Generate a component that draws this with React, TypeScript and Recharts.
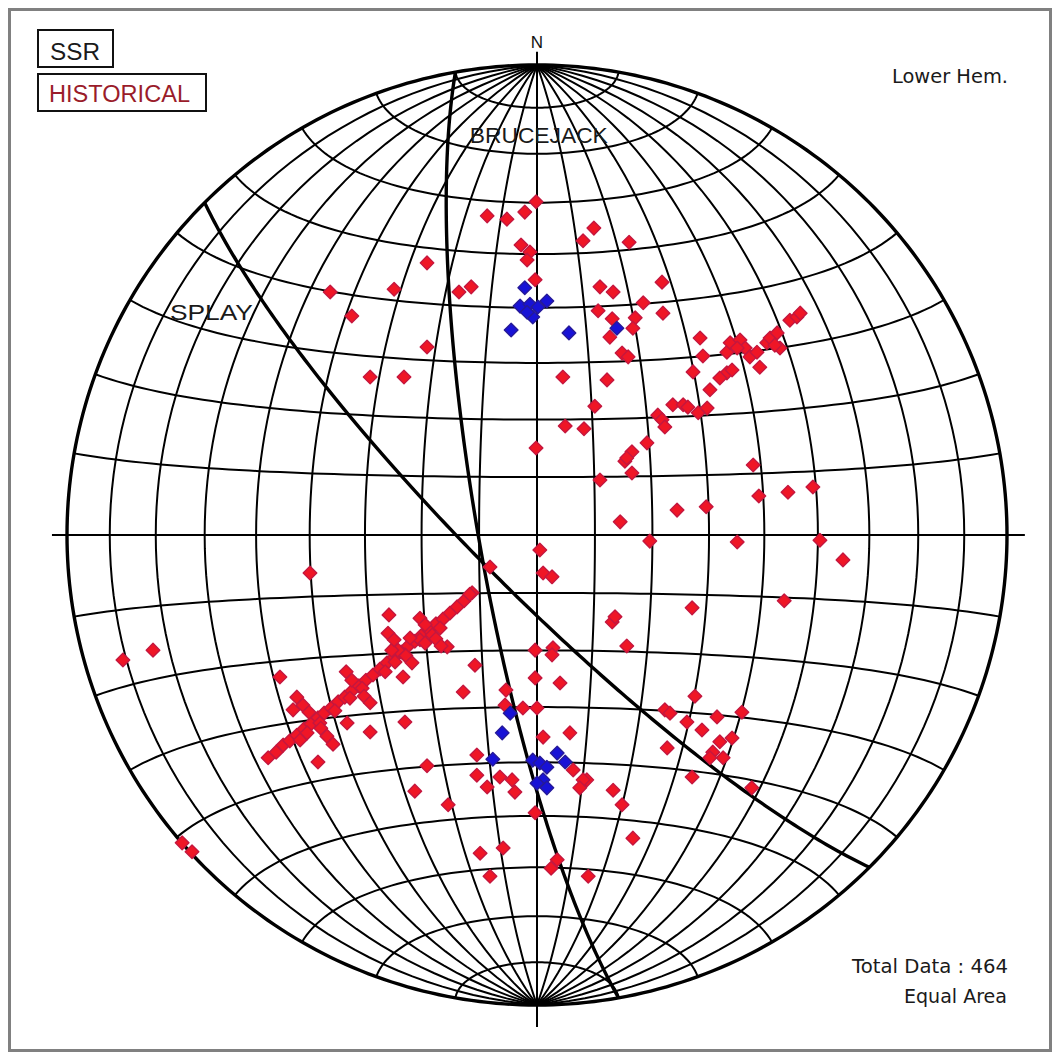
import React from 'react';
import { ScatterChart, Scatter, XAxis, YAxis } from 'recharts';

// Lower-hemisphere poles in equal-area net coordinates (primitive circle radius = 100, north up).
const historicalNorth: [number, number][] = [
  [-0.2, 70.9], [-2.6, 68.7], [-6.4, 67.2], [-10.6, 67.9], [-3.4, 61.7], [-1.5, 60.2], [-2.1, 58.5],
  [12.1, 65.3], [9.8, 62.6], [19.6, 62.3], [-23.4, 57.9], [-44.0, 51.7], [-30.4, 52.3], [-16.6, 51.7],
  [-14.0, 52.8], [-0.4, 54.3], [-39.4, 46.6], [-23.4, 40.0], [-35.5, 33.6], [-28.3, 33.6],
];

const historicalNorthEast: [number, number][] = [
  [13.4, 52.8], [16.2, 51.7], [22.6, 49.4], [13.0, 47.7], [16.0, 46.0], [15.5, 42.1], [20.9, 46.2],
  [20.4, 44.0], [18.1, 38.7], [19.4, 37.9], [5.5, 33.6], [14.9, 33.0], [12.3, 27.4], [6.0, 23.2],
  [10.0, 22.6], [-0.2, 18.5], [23.4, 19.6], [20.2, 17.7], [18.7, 15.7], [20.2, 13.2], [13.4, 11.7],
  [26.6, 53.8], [26.8, 47.2], [19.1, 16.4],
];

const historicalNorthEastTrend: [number, number][] = [
  [34.7, 41.9], [35.3, 38.1], [33.2, 34.7], [36.8, 30.9], [40.4, 38.9], [41.1, 40.9], [43.2, 41.5],
  [44.3, 39.8], [45.3, 37.9], [46.8, 38.9], [48.9, 40.9], [49.6, 41.9], [51.1, 43.0], [51.7, 39.8],
  [47.4, 35.7], [40.4, 34.5], [38.9, 33.4], [41.5, 35.1], [53.8, 45.7], [55.3, 46.4], [56.0, 47.2],
  [28.9, 27.7], [31.1, 27.7], [32.1, 27.2], [34.3, 26.0], [36.2, 27.0], [25.7, 25.5], [26.6, 24.5],
  [27.2, 23.0], [42.6, 39.8], [50.6, 40.4],
];

const historicalEast: [number, number][] = [
  [46.0, 14.9], [47.2, 8.3], [53.4, 9.1], [58.7, 10.2], [29.8, 5.3], [36.0, 6.0], [17.7, 2.8],
  [24.0, -1.3], [42.6, -1.5], [60.2, -1.1], [65.1, -5.3], [52.6, -14.0], [33.0, -15.5], [16.0, -18.5],
  [16.6, -17.4], [19.1, -23.6],
];

const historicalSouthEast: [number, number][] = [
  [33.6, -34.3], [27.2, -37.2], [28.3, -37.9], [31.9, -39.8], [38.3, -38.7], [43.6, -37.7],
  [35.1, -41.5], [38.9, -44.0], [41.5, -43.2], [37.4, -46.2], [39.6, -47.4], [36.8, -47.4],
  [27.7, -45.3], [33.0, -51.5], [45.7, -53.8], [16.2, -54.3], [10.6, -52.1],
];

const historicalSouth: [number, number][] = [
  [0.6, -3.2], [1.3, -8.1], [3.2, -8.9], [-10.0, -6.8], [-13.8, -12.3], [-0.4, -24.5], [3.4, -24.0],
  [3.2, -25.5], [-13.2, -27.7], [-28.5, -30.2], [-0.4, -30.4], [4.9, -31.5], [-15.7, -33.4],
  [-6.6, -33.0], [-6.8, -36.2], [-3.0, -36.8], [0, -36.8], [-28.1, -39.8], [1.3, -43.0], [7.0, -42.1],
  [-12.8, -46.8], [-23.4, -49.1], [-12.8, -51.1], [-10.6, -53.6], [-7.9, -51.5], [-5.3, -52.1],
  [-4.7, -54.7], [7.7, -50.0], [9.8, -52.1], [9.1, -53.8], [18.1, -57.4], [-26.0, -54.5],
  [-18.9, -57.4], [-0.4, -59.1], [20.4, -64.5], [-12.1, -67.7], [-7.2, -66.6], [4.3, -69.1],
  [3.0, -70.9], [-10.0, -72.6], [10.9, -72.6],
];

const historicalWest: [number, number][] = [
  [-48.3, -8.1], [-81.7, -24.5], [-88.1, -26.6], [-54.7, -30.2], [-51.9, -37.2], [-40.4, -40.0],
  [-35.5, -41.9], [-75.5, -65.5], [-73.4, -67.4], [-31.5, -17.0], [-46.6, -48.3], [-19.1, -23.8],
];

const historicalSouthWestTrend: [number, number][] = [
  [-57.2, -47.4], [-55.5, -46.2], [-54.0, -44.7], [-52.6, -43.8], [-51.1, -42.6], [-49.6, -41.3],
  [-48.1, -40.2], [-46.6, -38.9], [-45.3, -37.9], [-43.8, -36.8], [-42.3, -35.5], [-40.9, -34.5],
  [-39.4, -33.2], [-37.9, -32.1], [-36.4, -30.9], [-34.9, -29.8], [-33.4, -28.5], [-31.9, -27.2],
  [-30.4, -26.0], [-28.9, -24.9], [-27.4, -23.6], [-26.0, -22.6], [-24.5, -21.3], [-23.0, -20.2],
  [-21.5, -18.9], [-20.0, -17.9], [-18.5, -16.6], [-17.0, -15.3], [-15.5, -14.0], [-14.3, -12.6],
  [-50.4, -43.6], [-48.9, -42.1], [-46.2, -40.0], [-43.0, -37.4], [-39.8, -34.7], [-37.2, -32.6],
  [-32.3, -29.1], [-30.2, -27.0], [-28.1, -25.5], [-24.9, -22.3], [-23.8, -23.0], [-22.3, -21.3],
  [-20.6, -19.8], [-29.6, -24.5], [-27.0, -21.9], [-30.9, -24.5],
  [-51.1, -34.5], [-49.8, -36.2], [-48.5, -37.7], [-46.0, -41.1], [-44.7, -42.8], [-43.4, -44.5],
  [-40.6, -29.1], [-39.4, -30.9], [-36.8, -34.3], [-35.5, -35.7], [-31.7, -20.9], [-30.4, -22.3],
  [-27.9, -25.7], [-26.6, -27.2], [-24.9, -17.7], [-23.8, -19.1], [-21.5, -22.1], [-20.4, -23.6],
];

const ssrNorth: [number, number][] = [
  [-2.6, 52.6], [-3.6, 48.7], [-1.5, 49.1], [0.2, 48.5], [2.1, 49.8], [-0.9, 46.4], [-2.1, 47.4],
  [-5.5, 43.6], [6.8, 43.0], [17.0, 44.0],
];

const ssrSouth: [number, number][] = [
  [-5.7, -37.9], [-7.4, -42.1], [-9.4, -47.7], [-0.9, -47.9], [0.6, -48.5], [4.3, -46.4], [6.0, -48.3],
  [2.1, -49.4], [1.3, -52.1], [2.1, -53.8], [0, -52.8],
];

// Major structures as planes: dip direction / dip (degrees)
const planeNames = ['BRUCEJACK', 'SPLAY'];
const planeDipDirections = [260, 225];
const planeDips = [80, 80];

// Net labels: [x, y] anchor (left end of baseline) and drawn width
const planeLabelAnchors: [number, number][] = [[-14.3, 83.4], [-78.1, 45.7]];
const planeLabelWidths = [138, 83];

const legendLabels = ['SSR', 'HISTORICAL'];
const totalData = 464;

// ---------- net geometry ----------
const RAD = Math.PI / 180;
const NET_R = 100;
const GRID_STEP = 10;

type P = { x: number; y: number };

// Transverse Lambert equal-area point for net longitude/latitude
function netPoint(lon: number, lat: number): P {
  const c = Math.cos(lat * RAD) * Math.cos(lon * RAD);
  const k = Math.sqrt(2 / (1 + c));
  const s = NET_R / Math.SQRT2;
  return { x: s * k * Math.cos(lat * RAD) * Math.sin(lon * RAD), y: s * k * Math.sin(lat * RAD) };
}

function meridian(lon: number): P[] {
  const pts: P[] = [];
  for (let lat = -90; lat <= 90; lat += 2) pts.push(netPoint(lon, lat));
  return pts;
}

function parallel(lat: number): P[] {
  const pts: P[] = [];
  for (let lon = -90; lon <= 90; lon += 2) pts.push(netPoint(lon, lat));
  return pts;
}

function primitive(): P[] {
  const pts: P[] = [];
  for (let a = 0; a <= 360; a += 1) pts.push({ x: NET_R * Math.sin(a * RAD), y: NET_R * Math.cos(a * RAD) });
  return pts;
}

// Great circle of a plane, projected in the lower hemisphere
function greatCircle(dipDir: number, dip: number): P[] {
  const sAz = (dipDir - 90) * RAD;
  const s = [Math.cos(sAz), Math.sin(sAz), 0];
  const d = [Math.cos(dip * RAD) * Math.cos(dipDir * RAD), Math.cos(dip * RAD) * Math.sin(dipDir * RAD), Math.sin(dip * RAD)];
  const pts: P[] = [];
  for (let t = 0; t <= 180; t += 1) {
    const a = t * RAD;
    const n = Math.cos(a) * s[0] + Math.sin(a) * d[0];
    const e = Math.cos(a) * s[1] + Math.sin(a) * d[1];
    const dn = Math.max(0, Math.min(1, Math.cos(a) * s[2] + Math.sin(a) * d[2]));
    const plunge = Math.asin(dn) / RAD;
    const trend = Math.atan2(e, n);
    const r = NET_R * Math.SQRT2 * Math.sin(((90 - plunge) / 2) * RAD);
    pts.push({ x: r * Math.sin(trend), y: r * Math.cos(trend) });
  }
  return pts;
}

const gridCurves: P[][] = [];
for (let v = GRID_STEP; v < 90; v += GRID_STEP) {
  gridCurves.push(meridian(v), meridian(-v), parallel(v), parallel(-v));
}

// Cross axes with short ticks beyond the primitive
const northSouthAxis: P[] = [{ x: 0, y: -104.7 }, { x: 0, y: 102.8 }];
const eastWestAxis: P[] = [{ x: -103.2, y: 0 }, { x: 103.8, y: 0 }];

const toPoints = (arr: [number, number][]): P[] => arr.map(([x, y]) => ({ x, y }));

const historicalPoles = toPoints([
  ...historicalNorth, ...historicalNorthEast, ...historicalNorthEastTrend, ...historicalEast,
  ...historicalSouthEast, ...historicalSouth, ...historicalWest, ...historicalSouthWestTrend,
]);
const ssrPoles = toPoints([...ssrNorth, ...ssrSouth]);

const RED = '#ef1626';
const RED_EDGE = '#c4173f';
const BLUE = '#1812d6';
const BLUE_EDGE = '#261a98';

const noDot = () => <g />;

const diamond = (fill: string, edge: string) => (props: any) => {
  const { cx, cy } = props;
  const h = 6.8;
  return (
    <polygon
      points={`${cx},${cy - h} ${cx + h},${cy} ${cx},${cy + h} ${cx - h},${cy}`}
      fill={fill}
      stroke={edge}
      strokeWidth={1.4}
      strokeLinejoin="round"
    />
  );
};

const textShape = (label: string, width: number, size: number) => (props: any) => (
  <text
    x={props.cx}
    y={props.cy}
    fontFamily="'Liberation Sans', Arial, sans-serif"
    fontSize={size}
    fill="#1a1a1a"
    textLength={width}
    lengthAdjust="spacingAndGlyphs"
  >
    {label}
  </text>
);

const northShape = (props: any) => (
  <text
    x={props.cx}
    y={props.cy}
    textAnchor="middle"
    fontFamily="'Liberation Sans', Arial, sans-serif"
    fontSize={17}
    fill="#111"
  >
    N
  </text>
);

const CHART_W = 1044;
const CHART_H = 1044;
const DOMAIN: [number, number] = [-108, 108];

export default function App() {
  return (
    <div style={{ position: 'relative', width: 1046, height: 1046, background: '#fff' }}>
      <ScatterChart
        width={CHART_W}
        height={CHART_H}
        margin={{ top: 19.4, right: 7.4, bottom: 9.4, left: 21.4 }}
      >
        <XAxis type="number" dataKey="x" domain={DOMAIN} hide allowDataOverflow />
        <YAxis type="number" dataKey="y" domain={DOMAIN} hide allowDataOverflow />

        {gridCurves.map((c, i) => (
          <Scatter
            key={`g${i}`}
            data={c}
            line={{ stroke: '#000', strokeWidth: 2 }}
            shape={noDot}
            isAnimationActive={false}
          />
        ))}
        <Scatter data={northSouthAxis} line={{ stroke: '#000', strokeWidth: 2 }} shape={noDot} isAnimationActive={false} />
        <Scatter data={eastWestAxis} line={{ stroke: '#000', strokeWidth: 2 }} shape={noDot} isAnimationActive={false} />
        <Scatter data={primitive()} line={{ stroke: '#000', strokeWidth: 3.4 }} shape={noDot} isAnimationActive={false} />
        {planeNames.map((n, i) => (
          <Scatter
            key={n}
            data={greatCircle(planeDipDirections[i], planeDips[i])}
            line={{ stroke: '#000', strokeWidth: 3.4 }}
            shape={noDot}
            isAnimationActive={false}
          />
        ))}

        <Scatter data={historicalPoles} shape={diamond(RED, RED_EDGE)} isAnimationActive={false} />
        <Scatter data={ssrPoles} shape={diamond(BLUE, BLUE_EDGE)} isAnimationActive={false} />

        {planeNames.map((n, i) => (
          <Scatter
            key={`l${n}`}
            data={[{ x: planeLabelAnchors[i][0], y: planeLabelAnchors[i][1] }]}
            shape={textShape(n, planeLabelWidths[i], 22)}
            isAnimationActive={false}
          />
        ))}
        <Scatter data={[{ x: 0, y: 103.6 }]} shape={northShape} isAnimationActive={false} />
      </ScatterChart>

      <svg
        width={1046}
        height={1046}
        style={{ position: 'absolute', left: 0, top: 0, pointerEvents: 'none' }}
      >
        <rect x={1.5} y={1.5} width={1041} height={1041} fill="none" stroke="#808080" strokeWidth={3} />

        <rect x={30} y={22} width={75} height={37} fill="none" stroke="#111" strokeWidth={2} />
        <text x={42} y={52} fontFamily="'Liberation Sans', Arial, sans-serif" fontSize={23} fill="#1a1a1a"
          textLength={50} lengthAdjust="spacingAndGlyphs">{legendLabels[0]}</text>

        <rect x={30} y={66} width={168} height={37} fill="none" stroke="#111" strokeWidth={2} />
        <text x={41} y={94} fontFamily="'Liberation Sans', Arial, sans-serif" fontSize={23} fill="#9a1c2a"
          textLength={141} lengthAdjust="spacingAndGlyphs">{legendLabels[1]}</text>

        <text x={884} y={75} fontFamily="'DejaVu Sans', sans-serif" fontSize={19} fill="#1a1a1a"
          textLength={116} lengthAdjust="spacingAndGlyphs">Lower Hem.</text>
        <text x={844} y={965} fontFamily="'DejaVu Sans', sans-serif" fontSize={19} fill="#1a1a1a"
          textLength={156} lengthAdjust="spacingAndGlyphs">{`Total Data : ${totalData}`}</text>
        <text x={896} y={995} fontFamily="'DejaVu Sans', sans-serif" fontSize={19} fill="#1a1a1a"
          textLength={103} lengthAdjust="spacingAndGlyphs">Equal Area</text>
      </svg>
    </div>
  );
}
